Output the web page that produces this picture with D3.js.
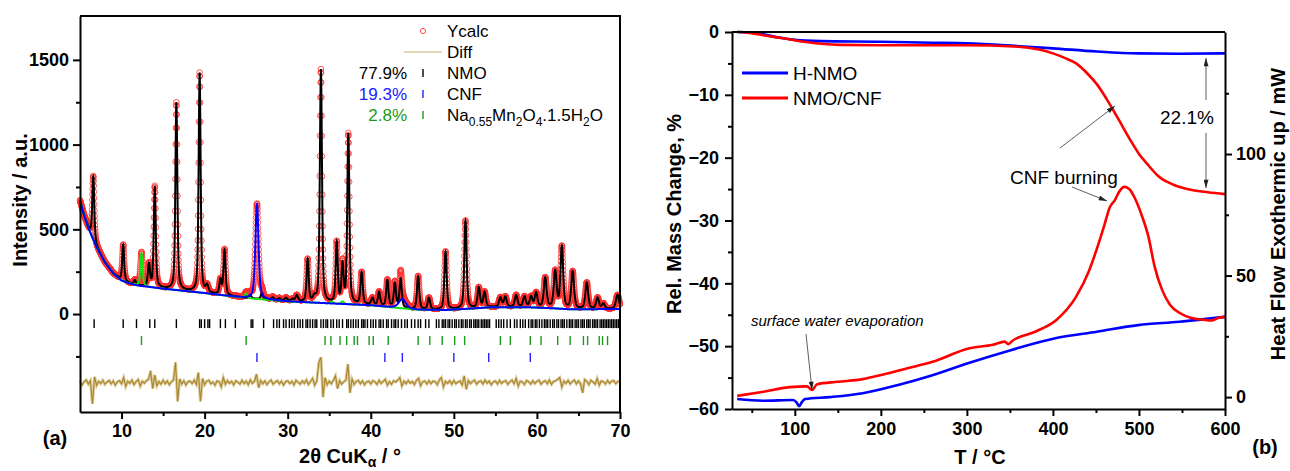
<!DOCTYPE html>
<html>
<head>
<meta charset="utf-8">
<script src="https://cdn.jsdelivr.net/npm/d3@7"></script>
<style>
  body { margin: 0; background: #fff; }
  svg { font-family: Arial, "Liberation Sans", sans-serif; }
  .axis path, .axis line { stroke: #000; stroke-width: 2; }
  .axis text { font-size: 18px; font-weight: bold; fill: #000; }
  .minor path { display: none; }
</style>
</head>
<body>
<script>
// ---------- (a) XRD refinement ----------
// background (blue base line), read at a few 2theta points
var bgTheta  = [5, 5.5, 6, 6.5, 7, 8, 9, 10, 11, 12, 15, 20, 25, 30, 35, 40, 42.5, 45.5, 49, 52, 54.3, 59, 62, 64, 70];
var bgCounts = [670, 580, 510, 450, 395, 305, 240, 198, 180, 168, 150, 124, 94, 75, 63, 52, 40, 26, 24, 32, 40, 40, 34, 28, 30];

// peaks: [2theta, height above background, fwhm]
var nmoPeaks = [
  [6.6, 375, 0.28], [10.2, 214, 0.28], [11.6, 25, 0.3], [13.3, 130, 0.3], [14.0, 595, 0.28],
  [16.6, 1105, 0.28], [19.4, 1295, 0.28], [20.3, 40, 0.35], [21.9, 85, 0.3], [22.4, 268, 0.3],
  [25.5, 20, 0.3], [26.9, 37, 0.3], [28.2, 15, 0.4], [29.0, 12, 0.4], [29.8, 18, 0.4],
  [30.6, 12, 0.4], [31.1, 35, 0.35], [32.4, 250, 0.3], [33.2, 25, 0.35], [34.0, 1375, 0.3],
  [35.9, 355, 0.3], [36.6, 220, 0.3], [37.3, 1000, 0.3], [38.9, 188, 0.32], [40.2, 40, 0.35],
  [41.0, 80, 0.32], [42.0, 155, 0.32], [42.9, 140, 0.32], [43.6, 170, 0.32], [45.7, 195, 0.33],
  [47.0, 68, 0.35], [49.0, 344, 0.33], [51.4, 520, 0.33], [53.0, 118, 0.35], [53.7, 90, 0.35],
  [55.6, 55, 0.38], [56.2, 60, 0.38], [57.5, 70, 0.38], [58.5, 60, 0.38], [59.3, 60, 0.38],
  [59.9, 84, 0.38], [61.0, 175, 0.4], [62.2, 215, 0.4], [63.0, 363, 0.38], [64.3, 220, 0.4],
  [66.0, 155, 0.4], [67.3, 65, 0.4], [68.0, 30, 0.4], [69.7, 82, 0.45]
];
var cnfPeaks = [[26.3, 560, 0.45], [43.8, 55, 1.0]];
var naPeaks  = [[12.4, 195, 0.3], [25.0, 28, 0.35], [35.3, 12, 0.4], [36.6, 15, 0.4]];

// reflection tick positions (2theta)
var nmoRefl = [6.7, 10.2, 11.8, 13.4, 14.0, 16.6, 19.4, 19.6, 20.0, 20.4, 20.6, 21.9, 22.5, 23.7, 25.6, 25.8,
  27.1, 28.3, 28.7, 29.0, 29.5, 29.8, 30.2, 30.5, 30.8, 31.2, 31.5, 31.8, 32.2, 32.4, 32.7, 33.0, 33.3, 33.5,
  34.0, 34.3, 34.6, 34.8, 35.2, 35.5, 35.9, 36.2, 36.6, 37.1, 37.3, 37.6, 37.9, 38.2, 38.5, 38.9, 39.1, 39.3,
  39.6, 40.0, 40.3, 40.6, 41.0, 41.2, 41.5, 41.9, 42.1, 42.5, 42.8, 43.0, 43.3, 43.7, 44.1, 44.4, 44.9, 45.3,
  45.7, 46.0, 46.6, 47.0, 47.9, 48.2, 48.6, 48.8, 49.0, 49.3, 49.5, 49.8, 50.1, 50.3, 50.6, 50.9, 51.1, 51.4,
  51.6, 51.9, 52.1, 52.4, 52.6, 52.8, 53.0, 53.3, 53.5, 53.7, 53.9, 54.1, 54.3, 55.1, 55.4, 55.7, 56.0, 56.4,
  56.8, 57.3, 57.6, 58.0, 58.3, 58.6, 59.0, 59.3, 59.5, 59.8, 60.0, 60.3, 60.6, 60.9, 61.1, 61.3, 61.6, 61.9,
  62.1, 62.4, 62.6, 62.9, 63.1, 63.3, 63.6, 63.9, 64.1, 64.3, 64.6, 64.8, 65.0, 65.3, 65.5, 65.7, 66.0, 66.2,
  66.4, 66.7, 66.9, 67.1, 67.3, 67.6, 67.8, 68.0, 68.2, 68.4, 68.6, 68.8, 69.0, 69.2, 69.4, 69.6, 69.8, 70.0];
var naRefl = [12.4, 25.0, 34.5, 35.2, 36.3, 37.1, 38.0, 38.4, 39.8, 40.3, 42.1, 45.7, 47.1, 48.6, 50.1, 51.3,
  55.6, 56.8, 59.2, 60.5, 62.5, 64.0, 65.6, 66.1, 67.5, 67.9, 68.5];
var cnfRefl = [26.3, 41.7, 43.8, 50.0, 54.2, 59.2];

// difference curve, 5..70 deg every 0.25 deg
var diffStart = 5, diffStep = 0.25, diffOffset = -405;
var diffValues = [
  10, -14, 6, 16, -8, 12, -125, 35, -16, 8, -5, 14, -10, 4, 13, -7, 10, -15, 5, 12,
  -6, 30, -22, 9, -4, 15, -11, 6, 18, -20, 8, -3, 12, 20, 70, -35, 45, -18, 7, -9,
  14, -6, 10, -12, 5, 16, 120, -110, 22, -8, 11, -14, 6, 9, -5, 15, -10, 60, -110, 25,
  -12, 8, 14, -7, 4, -15, 10, 6, -25, 30, -9, 12, -4, 8, -13, 11, 3, -8, 14, -5,
  9, -12, 16, -4, 7, 50, -30, 13, -6, 10, -11, 5, 15, -9, 4, 12, -7, 9, -14, 6,
  11, -5, 8, -13, 14, 3, -9, 10, -4, 16, -10, 7, 25, -15, 8, 120, 150, -85, 30, -12,
  9, -6, 14, 40, -35, 12, -8, 5, 15, 110, -60, 20, -10, 8, 13, -6, 10, -12, 4, 9,
  -7, 12, 5, -10, 14, -4, 8, 20, -15, 6, -9, 11, 4, 15, 30, -20, 9, -6, 13, -3,
  7, -11, 14, 25, -18, 5, 10, -8, 12, -5, 9, 6, -12, 15, 30, -25, 8, -4, 11, -9,
  13, -6, 4, 10, -14, 40, -40, 12, -5, 8, 14, -9, 6, 11, -7, 15, -3, 9, -12, 5,
  10, -8, 13, -4, 7, 12, -10, 5, 15, -6, 25, -20, 9, 4, -11, 13, 6, -8, 11, -5,
  8, 14, -9, 5, 12, -6, 16, -10, 7, 11, 20, 30, -25, 9, -4, 13, -8, 6, 15, -7,
  10, -5, -60, 18, 8, -12, 14, 4, -9, 25, -15, 10, 6, -8, 13, -4, 9, 12, -6, 8,
  5
];

// ---------- (b) TGA / DSC ----------
var tgaHNMO = [[33, 0], [50, -0.05], [65, -0.4], [80, -0.85], [100, -1.25], [130, -1.45], [200, -1.55],
  [260, -1.7], [300, -1.8], [355, -2.2], [400, -2.6], [451, -3.1], [499, -3.4], [547, -3.45], [600, -3.4]];
var tgaCNF = [[33, 0], [45, -0.1], [67, -0.6], [86, -1.0], [113, -1.6], [152, -2.05], [200, -2.1], [300, -2.1],
  [355, -2.3], [384, -2.8], [400, -3.4], [415, -4.2], [427, -5.0], [440, -6.6], [451, -8.3], [463, -10.8],
  [475, -13.6], [490, -17.2], [500, -19.4], [509, -20.9], [523, -23.0], [540, -24.3], [560, -25.1],
  [580, -25.5], [600, -25.8]];
var dscHNMO = [[33, -0.8], [63, -1.5], [98, -1.2], [102, -2.2], [105, -3.7], [108, -2.2], [112, -0.8],
  [141, 0], [179, 1.6], [219, 4.9], [260, 9.0], [302, 14.0], [351, 19.3], [404, 24.3], [451, 26.9],
  [499, 29.6], [547, 31.0], [600, 33.0]];
var dscCNF = [[33, 0.5], [60, 2.0], [94, 4.1], [114, 4.4], [120, 2.9], [126, 5.3], [150, 6.3], [179, 7.4],
  [203, 9.3], [230, 11.8], [260, 14.5], [302, 20.0], [330, 21.5], [344, 22.8], [348, 21.8], [353, 23.2],
  [380, 27], [404, 31.7], [427, 41.3], [442, 52], [452, 62], [460, 71], [466, 78], [472, 81], [477, 84.5],
  [483, 86.5], [489, 85.5], [495, 82], [503, 75], [511, 66], [518, 54], [527, 44], [536, 38], [548, 34.5],
  [561, 32.5], [575, 31.8], [585, 31.5], [592, 32.5], [600, 33]];

var width = 1290, height = 471;

var svg = d3.select("body").append("svg")
  .attr("width", width)
  .attr("height", height);

var defs = svg.append("defs");
defs.append("marker")
  .attr("id", "arrow")
  .attr("viewBox", "0 0 10 6")
  .attr("refX", 10).attr("refY", 3)
  .attr("markerWidth", 9).attr("markerHeight", 5)
  .attr("markerUnits", "userSpaceOnUse")
  .attr("orient", "auto")
  .append("path").attr("d", "M0,0 L10,3 L0,6 Z").attr("fill", "#222");

var intFmt = d3.format("d");

// ================= panel (a) =================
var xA = d3.scaleLinear().domain([5, 70]).range([80, 620]);
var yA = d3.scaleLinear().domain([-578, 1759]).range([412, 16]);
var bg = d3.scaleLinear().domain(bgTheta).range(bgCounts);

function pv(x, p) {
  var t = (x - p[0]) / p[2];
  return p[1] * (0.5 / (1 + 4 * t * t) + 0.5 * Math.exp(-2.7726 * t * t));
}
function sumPeaks(x, peaks) {
  return d3.sum(peaks, function(p) { return pv(x, p); });
}

var fine = d3.range(5, 70.0001, 0.01);
var coarse = d3.range(5, 70.0001, 0.02);

var lineA = d3.line().x(function(d) { return xA(d[0]); }).y(function(d) { return yA(d[1]); });

// observed points (red circles)
svg.append("g").selectAll("circle")
  .data(coarse.map(function(x) {
    return [x, bg(x) + sumPeaks(x, nmoPeaks) + sumPeaks(x, cnfPeaks) + sumPeaks(x, naPeaks)];
  }))
  .join("circle")
  .attr("cx", function(d) { return xA(d[0]); })
  .attr("cy", function(d) { return yA(d[1]); })
  .attr("r", 2.8)
  .attr("fill", "none")
  .attr("stroke", "#ff3030")
  .attr("stroke-width", 0.8);

// phase curves
svg.append("path")
  .datum(fine.map(function(x) { return [x, bg(x) + sumPeaks(x, nmoPeaks)]; }))
  .attr("d", lineA).attr("fill", "none").attr("stroke", "#000").attr("stroke-width", 2);
svg.append("path")
  .datum(fine.map(function(x) { return [x, bg(x) + sumPeaks(x, naPeaks)]; }))
  .attr("d", lineA).attr("fill", "none").attr("stroke", "#10e010").attr("stroke-width", 2);
svg.append("path")
  .datum(fine.map(function(x) { return [x, bg(x) + sumPeaks(x, cnfPeaks)]; }))
  .attr("d", lineA).attr("fill", "none").attr("stroke", "#0000ff").attr("stroke-width", 2);

// reflection ticks
function reflRow(list, lo, hi, color) {
  svg.append("g").selectAll("line").data(list).join("line")
    .attr("x1", function(d) { return xA(d); }).attr("x2", function(d) { return xA(d); })
    .attr("y1", yA(lo)).attr("y2", yA(hi))
    .attr("stroke", color).attr("stroke-width", 1.4);
}
reflRow(nmoRefl, -30, -83, "#000");
reflRow(naRefl, -130, -183, "#1a9a1a");
reflRow(cnfRefl, -230, -283, "#2020ff");

// difference curve
var diffPts = diffValues.map(function(v, i) { return [diffStart + i * diffStep, diffOffset + v]; });
svg.append("path").datum(diffPts).attr("d", lineA)
  .attr("fill", "none").attr("stroke", "#dccb9c").attr("stroke-width", 3);
svg.append("path").datum(diffPts).attr("d", lineA)
  .attr("fill", "none").attr("stroke", "#a8852a").attr("stroke-width", 1.1);

// axes (a)
svg.append("g").attr("class", "axis").attr("transform", "translate(0,412)")
  .call(d3.axisBottom(xA).tickValues([10, 20, 30, 40, 50, 60, 70]).tickSize(7).tickSizeOuter(0).tickPadding(5));
svg.append("g").attr("class", "axis minor").attr("transform", "translate(0,412)")
  .call(d3.axisBottom(xA).tickValues([15, 25, 35, 45, 55, 65]).tickSize(4).tickFormat(""));
svg.append("g").attr("class", "axis").attr("transform", "translate(80,0)")
  .call(d3.axisLeft(yA).tickValues([0, 500, 1000, 1500]).tickFormat(intFmt)
    .tickSize(7).tickSizeOuter(0).tickPadding(4));
svg.append("g").attr("class", "axis minor").attr("transform", "translate(80,0)")
  .call(d3.axisLeft(yA).tickValues([-250, 250, 750, 1250]).tickSize(4).tickFormat(""));
svg.append("path").attr("d", "M80,16H620V412").attr("fill", "none").attr("stroke", "#000").attr("stroke-width", 2);

// legend (a)
var legA = svg.append("g").style("font-size", "17px");
legA.append("circle").attr("cx", 423).attr("cy", 31).attr("r", 2.6)
  .attr("fill", "none").attr("stroke", "#ff4a4a").attr("stroke-width", 1);
legA.append("line").attr("x1", 404).attr("x2", 442).attr("y1", 52).attr("y2", 52)
  .attr("stroke", "#d9c8a2").attr("stroke-width", 1.5);
var legRows = [
  { y: 31, name: "Ycalc" },
  { y: 52, name: "Diff" },
  { y: 73, name: "NMO", pct: "77.9%", color: "#000" },
  { y: 94, name: "CNF", pct: "19.3%", color: "#2020ff" },
  { y: 115, name: null, pct: "2.8%", color: "#1a9a1a" }
];
legRows.forEach(function(r) {
  if (r.name) legA.append("text").attr("x", 447).attr("y", r.y).attr("dy", "0.35em").text(r.name);
  if (r.pct) {
    legA.append("text").attr("x", 407).attr("y", r.y).attr("dy", "0.35em")
      .attr("text-anchor", "end").attr("fill", r.color).text(r.pct);
    legA.append("line").attr("x1", 423).attr("x2", 423).attr("y1", r.y - 4).attr("y2", r.y + 4)
      .attr("stroke", r.color).attr("stroke-width", 1.4);
  }
});
var na = legA.append("text").attr("x", 447).attr("y", 115).attr("dy", "0.35em");
na.append("tspan").text("Na");
na.append("tspan").attr("dy", 5).style("font-size", "12px").text("0.55");
na.append("tspan").attr("dy", -5).text("Mn");
na.append("tspan").attr("dy", 5).style("font-size", "12px").text("2");
na.append("tspan").attr("dy", -5).text("O");
na.append("tspan").attr("dy", 5).style("font-size", "12px").text("4");
na.append("tspan").attr("dy", -5).text(".1.5H");
na.append("tspan").attr("dy", 5).style("font-size", "12px").text("2");
na.append("tspan").attr("dy", -5).text("O");

// titles (a)
svg.append("text").attr("transform", "translate(20,200) rotate(-90)")
  .attr("text-anchor", "middle").attr("dy", "0.35em")
  .style("font-size", "20px").style("font-weight", "bold").text("Intensity / a.u.");
var xt = svg.append("text").attr("x", 350).attr("y", 463).attr("text-anchor", "middle")
  .style("font-size", "20px").style("font-weight", "bold");
xt.append("tspan").text("2\u03b8 CuK");
xt.append("tspan").attr("dy", 4).style("font-size", "14px").text("\u03b1");
xt.append("tspan").attr("dy", -4).text(" / \u00b0");
svg.append("text").attr("x", 55).attr("y", 445).attr("text-anchor", "middle")
  .style("font-size", "20px").style("font-weight", "bold").text("(a)");

// ================= panel (b) =================
var xB = d3.scaleLinear().domain([27, 600]).range([732, 1225]);
var yM = d3.scaleLinear().domain([-60, 0]).range([409, 32]);
var yH = d3.scaleLinear().domain([-4.9, 150.2]).range([409, 32]);

var lineM = d3.line().x(function(d) { return xB(d[0]); }).y(function(d) { return yM(d[1]); }).curve(d3.curveMonotoneX);
var lineH = d3.line().x(function(d) { return xB(d[0]); }).y(function(d) { return yH(d[1]); }).curve(d3.curveMonotoneX);

svg.append("path").datum(dscHNMO).attr("d", lineH).attr("fill", "none").attr("stroke", "#0000ff").attr("stroke-width", 2.6);
svg.append("path").datum(dscCNF).attr("d", lineH).attr("fill", "none").attr("stroke", "#ff0000").attr("stroke-width", 2.6);
svg.append("path").datum(tgaHNMO).attr("d", lineM).attr("fill", "none").attr("stroke", "#0000ff").attr("stroke-width", 2.6);
svg.append("path").datum(tgaCNF).attr("d", lineM).attr("fill", "none").attr("stroke", "#ff0000").attr("stroke-width", 2.6);

// axes (b)
svg.append("g").attr("class", "axis").attr("transform", "translate(0,409)")
  .call(d3.axisBottom(xB).tickValues([100, 200, 300, 400, 500, 600]).tickSize(7).tickSizeOuter(0).tickPadding(6));
svg.append("g").attr("class", "axis minor").attr("transform", "translate(0,409)")
  .call(d3.axisBottom(xB).tickValues([50, 150, 250, 350, 450, 550]).tickSize(4).tickFormat(""));
svg.append("g").attr("class", "axis").attr("transform", "translate(732,0)")
  .call(d3.axisLeft(yM).tickValues(d3.range(-60, 1, 10)).tickSize(7).tickSizeOuter(0).tickPadding(6));
svg.append("g").attr("class", "axis minor").attr("transform", "translate(732,0)")
  .call(d3.axisLeft(yM).tickValues([-55, -45, -35, -25, -15, -5]).tickSize(4).tickFormat(""));
svg.append("g").attr("class", "axis").attr("transform", "translate(1225,0)")
  .call(d3.axisRight(yH).tickValues([0, 50, 100]).tickSize(7).tickSizeOuter(0).tickPadding(4));
svg.append("g").attr("class", "axis minor").attr("transform", "translate(1225,0)")
  .call(d3.axisRight(yH).tickValues([25, 75, 125]).tickSize(4).tickFormat(""));
svg.append("path").attr("d", "M732,32H1225").attr("stroke", "#000").attr("stroke-width", 2);

// legend (b)
var legB = [{ name: "H-NMO", color: "#0000ff", y: 73 }, { name: "NMO/CNF", color: "#ff0000", y: 98 }];
legB.forEach(function(r) {
  svg.append("line").attr("x1", 742).attr("x2", 788).attr("y1", r.y).attr("y2", r.y)
    .attr("stroke", r.color).attr("stroke-width", 3);
  svg.append("text").attr("x", 793).attr("y", r.y).attr("dy", "0.35em")
    .style("font-size", "19px").text(r.name);
});

// annotations (b)
svg.append("text").attr("x", 1160).attr("y", 117).attr("dy", "0.35em")
  .style("font-size", "19px").text("22.1%");
svg.append("line").attr("x1", 1206).attr("x2", 1206).attr("y1", 100).attr("y2", 58)
  .attr("stroke", "#333").attr("stroke-width", 0.8).attr("marker-end", "url(#arrow)");
svg.append("line").attr("x1", 1206).attr("x2", 1206).attr("y1", 133).attr("y2", 188)
  .attr("stroke", "#333").attr("stroke-width", 0.8).attr("marker-end", "url(#arrow)");

svg.append("text").attr("x", 1010).attr("y", 177).attr("dy", "0.35em")
  .style("font-size", "19px").text("CNF burning");
svg.append("line").attr("x1", 1060).attr("y1", 148).attr("x2", 1115).attr("y2", 106)
  .attr("stroke", "#333").attr("stroke-width", 0.8).attr("marker-end", "url(#arrow)");
svg.append("line").attr("x1", 1072).attr("y1", 187).attr("x2", 1107).attr("y2", 201)
  .attr("stroke", "#333").attr("stroke-width", 0.8).attr("marker-end", "url(#arrow)");

svg.append("text").attr("x", 751).attr("y", 326)
  .style("font-size", "15px").style("font-style", "italic").text("surface water evaporation");
svg.append("line").attr("x1", 806).attr("y1", 334).attr("x2", 812).attr("y2", 390)
  .attr("stroke", "#333").attr("stroke-width", 0.8).attr("marker-end", "url(#arrow)");

// titles (b)
svg.append("text").attr("transform", "translate(674,214) rotate(-90)")
  .attr("text-anchor", "middle").attr("dy", "0.35em")
  .style("font-size", "20px").style("font-weight", "bold").text("Rel. Mass Change, %");
svg.append("text").attr("transform", "translate(1278,214) rotate(-90)")
  .attr("text-anchor", "middle").attr("dy", "0.35em")
  .style("font-size", "20px").style("font-weight", "bold").text("Heat Flow Exothermic up / mW");
svg.append("text").attr("x", 980).attr("y", 464).attr("text-anchor", "middle")
  .style("font-size", "20px").style("font-weight", "bold").text("T / \u00b0C");
svg.append("text").attr("x", 1265).attr("y", 454).attr("text-anchor", "middle")
  .style("font-size", "20px").style("font-weight", "bold").text("(b)");
</script>
</body>
</html>
